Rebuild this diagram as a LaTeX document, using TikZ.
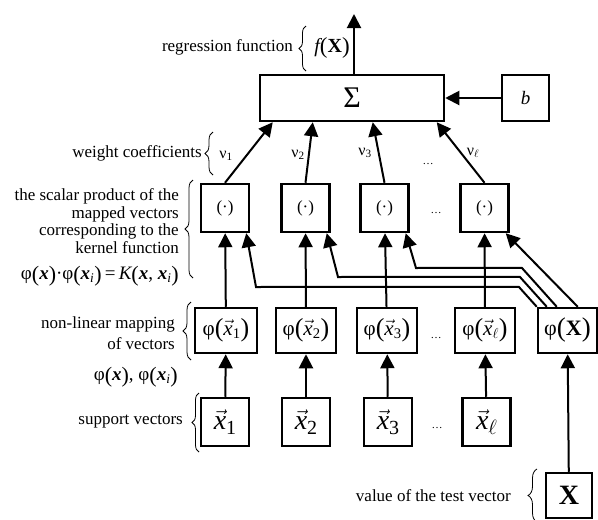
\documentclass[tikz,border=0pt]{standalone}
\usepackage{amsmath}
\usepackage{fontspec}
\setmainfont{Liberation Serif}
\usetikzlibrary{arrows.meta,decorations.pathreplacing,calc}

\newcommand{\fs}[1]{\fontsize{#1}{#1}\selectfont}
\newcommand{\vxx}{$\vec{\text{\itshape x}}$}
\newcommand{\bxx}{{\bfseries\itshape x}}
\newcommand{\bigp}[2]{\raisebox{-1.5pt}{\fs{#1}#2}}
\newcommand{\phix}[1]{{\fs{21}φ\bigp{26}{(}\vxx\textsubscript{#1}\bigp{26}{)}}}
\newcommand{\supx}[1]{{\fs{28}\vxx\raisebox{-5pt}{\fs{20}#1}}}

\tikzset{
  box/.style={draw,line width=2.5pt,inner sep=0pt},
  conn/.style={line width=2pt,-{Triangle[length=14pt,width=14pt]}},
  lab/.style={inner sep=0pt,font=\fontsize{17}{17.5}\selectfont},
  wlab/.style={inner sep=0pt,font=\fontsize{16}{16}\selectfont},
  dots/.style={inner sep=0pt,font=\fontsize{11}{11}\selectfont},
  brc/.style={decorate,decoration={brace,amplitude=#1},line width=0.8pt}
}

\begin{document}
\begin{tikzpicture}[x=1pt,y=-1pt]
\useasboundingbox (0,0) rectangle (598,520);

% top
\node[box,minimum width=184pt,minimum height=46pt] (sigma) at (352,98) {\fs{30}Σ};
\node[box,minimum width=47pt,minimum height=46pt] (b) at (525.5,98) {\fs{19}\itshape b};
\coordinate (out) at (354,14);
\draw[conn] (sigma.north -| out) -- (out);
\draw[conn] (b) -- (sigma);

% scalar product boxes
\foreach \n/\x in {1/225,2/305.5,3/384.5,4/484.5}{
  \node[box,minimum width=48pt,minimum height=48pt] (d\n) at (\x,208) {\fs{17}(·)};
}
% phi boxes
\node[box,minimum width=62pt,minimum height=45pt] (p1) at (226,330.5) {\phix{1}};
\node[box,minimum width=60pt,minimum height=45pt] (p2) at (306,330.5) {\phix{2}};
\node[box,minimum width=60pt,minimum height=45pt] (p3) at (387,330.5) {\phix{3}};
\node[box,minimum width=60pt,minimum height=45pt] (p4) at (485,330.5) {\phix{$\ell$}};
\node[box,minimum width=59pt,minimum height=45pt] (pX) at (567.5,330.5) {\fs{22}φ\bigp{27}{(}\textbf{X}\bigp{27}{)}};
% support vector boxes
\node[box,minimum width=48pt,minimum height=48pt] (x1) at (225,422) {\supx{1}};
\node[box,minimum width=48pt,minimum height=48pt] (x2) at (306,422) {\supx{2}};
\node[box,minimum width=48pt,minimum height=48pt] (x3) at (388,422) {\supx{3}};
\node[box,minimum width=48pt,minimum height=48pt] (x4) at (486.5,422) {\supx{$\ell$}};
\node[box,minimum width=46pt,minimum height=45pt] (X) at (569,495.5) {\fs{28}\bfseries X};

% points on sigma bottom
\path (sigma.south west) ++(14,0) coordinate (s1) ++(40,0) coordinate (s2)
      ++(60,0) coordinate (s3) ++(64,0) coordinate (s4);
\foreach \n in {1,2,3,4}{
  \draw[conn] (d\n.north) -- (s\n);
  \draw[conn] (x\n) -- (p\n);
  \draw[conn] (p\n) -- (d\n);
}
\draw[conn] (X) -- (pX);

% lines from phi(X) to scalar product boxes
\draw[conn] (pX.north west) -- ++(-18,-20) -- (256,287) -- ([xshift=-4pt]d1.south east);
\draw[conn] ([xshift=10pt]pX.north west) -- ++(-27,-30) -- (338,277) -- ([xshift=-4pt]d2.south east);
\draw[conn] ([xshift=20pt]pX.north west) -- ++(-35,-39) -- (416,268) -- ([xshift=-4pt]d3.south east);
\draw[conn] ([xshift=41pt]pX.north west) -- ([xshift=-4pt]d4.south east);

% weight labels
\node[wlab] (w1) at (226,156) {ν\textsubscript{1}};
\node[wlab] (w2) at (298,155) {ν\textsubscript{2}};
\node[wlab] (w3) at (365,153) {ν\textsubscript{3}};
\node[dots] (wd) at (428,164) {\ldots};
\node[wlab] (w4) at (473,153) {ν\textsubscript{$\ell$}};

% dots
\node[dots] (dd) at (436,213) {\ldots};
\node[dots] (pd) at (436,338) {\ldots};
\node[dots] (xd) at (437,428) {\ldots};

% left labels and braces
\node[lab,anchor=east] (t1) at (293,47) {regression function};
\draw[brc=7pt] (306,71) -- (306,26);
\node[inner sep=0pt] (fX) at (332,48) {\fs{20}{\itshape f}\bigp{23}{(}\textbf{X}\bigp{23}{)}};

\node[lab,anchor=east] (t2) at (202,153) {weight coefficients};
\draw[brc=8pt] (213,175) -- (213,132);

\node[lab,anchor=east,align=right] (t3) at (179,221) {the scalar product of the\\mapped vectors\\corresponding to the\\kernel function};
\node[lab,anchor=east] (t3f) at (179,276) {\fs{19}φ\bigp{22}{(}\bxx\bigp{22}{)}·φ\bigp{22}{(}\bxx\textsubscript{\itshape i}\bigp{22}{)}\,=\,{\itshape K}\bigp{22}{(}\bxx, \bxx\textsubscript{\itshape i}\bigp{22}{)}};
\draw[brc=8pt] (193,278) -- (193,180);

\node[lab,anchor=east,align=right,font=\fontsize{17}{21}\selectfont] (t4) at (175,333.5) {non-linear mapping\\of vectors};
\draw[brc=8pt] (191,360) -- (191,302);
\node[lab,anchor=east] (t4f) at (178,377) {\fs{19}φ\bigp{22}{(}\bxx\bigp{22}{)}, φ\bigp{22}{(}\bxx\textsubscript{\itshape i}\bigp{22}{)}};

\node[lab,anchor=east] (t5) at (183,422) {support vectors};
\draw[brc=7pt] (199,452) -- (199,393);

\node[lab,anchor=east] (t6) at (511,496) {value of the test vector};
\draw[brc=9pt] (537,522) -- (537,469);
\end{tikzpicture}
\end{document}
